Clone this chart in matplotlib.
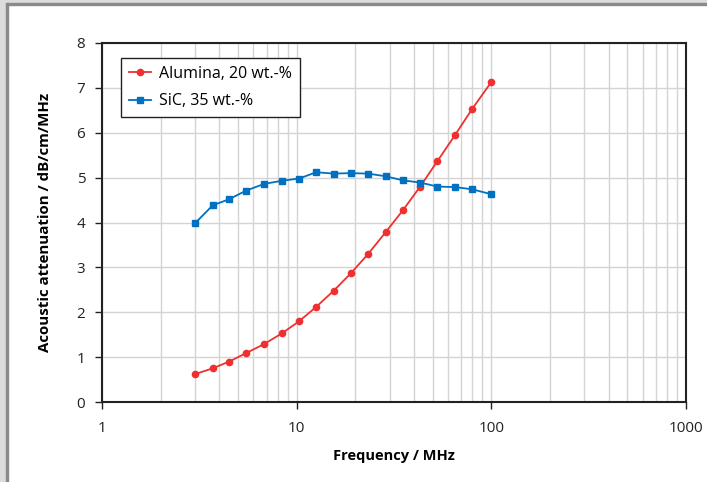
import numpy as np
import matplotlib
matplotlib.use("Agg")
import matplotlib.pyplot as plt
from matplotlib.patches import Rectangle

plt.rcParams['font.family'] = ['Open Sans', 'DejaVu Sans']

# frequency points (MHz)
freq = [3.0, 3.7, 4.5, 5.5, 6.8, 8.4, 10.3, 12.6, 15.5, 19.0, 23.3, 28.6,
        35.1, 43.1, 52.9, 64.9, 79.7, 100.0]
alumina = [0.62, 0.75, 0.90, 1.09, 1.29, 1.53, 1.80, 2.12, 2.48, 2.87, 3.30,
           3.78, 4.27, 4.80, 5.37, 5.94, 6.53, 7.13]
sic = [3.98, 4.38, 4.52, 4.71, 4.86, 4.93, 4.98, 5.12, 5.09, 5.10, 5.09,
       5.03, 4.94, 4.89, 4.80, 4.79, 4.74, 4.63]

fig = plt.figure(figsize=(7.07, 4.82), dpi=100)
fig.patches.append(Rectangle((0, 0), 6/707, 1, transform=fig.transFigure,
                             color='#dcdcdc', zorder=0))
fig.patches.append(Rectangle((0, 1 - 3/482), 1, 3/482, transform=fig.transFigure,
                             color='#dcdcdc', zorder=0))
fig.patches.append(Rectangle((6/707, 0), 1.5/707, 1 - 3/482, transform=fig.transFigure,
                             color='#8a8a8a', zorder=0))
fig.patches.append(Rectangle((6/707, 1 - 4.5/482), 1, 1.5/482, transform=fig.transFigure,
                             color='#8a8a8a', zorder=0))

ax = fig.add_axes([102/707, 1 - 402/482, 584/707, 359/482])

ax.plot(freq, alumina, color='#ee3030', marker='o', markersize=4.5, lw=1.3,
        label='Alumina, 20 wt.-%')
ax.plot(freq, sic, color='#0070c0', marker='s', markersize=4.5, lw=1.3,
        label='SiC, 35 wt.-%')

ax.set_xscale('log')
ax.set_xlim(1, 1000)
ax.set_ylim(0, 8)
ax.set_xticks([1, 10, 100, 1000])
ax.set_xticklabels(['1', '10', '100', '1000'])
ax.set_yticks(range(0, 9))
ax.xaxis.set_minor_formatter(matplotlib.ticker.NullFormatter())
ax.tick_params(which='minor', length=0)
ax.tick_params(which='major', direction='out', length=5, width=1, labelsize=11,
               colors='#222222')
ax.tick_params(axis='y', pad=7)
ax.tick_params(axis='x', pad=9)
ax.grid(which='both', color='#d4d4d4', lw=1)
ax.set_axisbelow(True)
for s in ax.spines.values():
    s.set_linewidth(1.5)
    s.set_color('#222222')

ax.set_xlabel('Frequency / MHz', fontsize=10.5, fontweight='bold', labelpad=9)
ax.set_ylabel('Acoustic attenuation / dB/cm/MHz', fontsize=10.8, fontweight='bold',
              labelpad=18)

leg = ax.legend(loc='upper left', bbox_to_anchor=(19/584, 1 - 15/359), fontsize=11.5,
                fancybox=False, framealpha=1, edgecolor='#222222',
                borderaxespad=0, handlelength=1.4, handletextpad=0.5,
                borderpad=0.5, labelspacing=0.7)
leg.get_frame().set_linewidth(1.0)

fig.savefig('out.png', dpi=100)
